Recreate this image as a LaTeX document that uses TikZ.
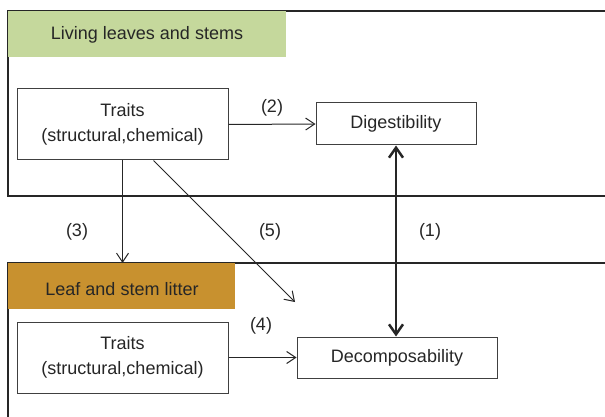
\documentclass[tikz,border=0pt]{standalone}
\usepackage{fontspec}
\setmainfont{Liberation Sans}
\usetikzlibrary{arrows.meta}
\definecolor{leafgreen}{HTML}{C5D89C}
\definecolor{litterbrown}{HTML}{C8912F}

\begin{document}
\begin{tikzpicture}[
    x=1pt, y=-1pt,
    every node/.style={font=\fontsize{18}{25}\selectfont, text=black!85},
    box/.style={draw=black!75, line width=1pt, fill=white, align=center},
    band/.style={inner sep=0pt, anchor=north west},
    link/.style={-{Straight Barb[length=9pt,width=12pt]}, line width=1pt, draw=black!85},
  ]
  \useasboundingbox (0,0) rectangle (605,417);
  % frames
  \draw[line width=2pt, black!85] (605,11) -- (8,11) -- (8,196) -- (605,196);
  \draw[line width=2pt, black!85] (605,263) -- (8,263) -- (8,417);
  \node[band, fill=leafgreen, minimum width=278pt, minimum height=46pt] (live) at (8,11) {};
  \node at (147,35) {Living leaves and stems};
  \node[band, fill=litterbrown, minimum width=227pt, minimum height=46pt] (lit) at (8,263) {};
  \node at (122,289) {Leaf and stem litter};
  % boxes
  \node[box, minimum width=211pt, minimum height=71pt] (tA) at (122.5,124.5) {Traits\\(structural,chemical)};
  \node[box, minimum width=160pt, minimum height=42pt] (dig) at (396,124) {Digestibility};
  \node[box, minimum width=211pt, minimum height=71pt] (tB) at (122.5,357.5) {Traits\\(structural,chemical)};
  \node[box, minimum width=200pt, minimum height=41pt] (dec) at (397,357.5) {Decomposability};
  \coordinate (end5) at (295,302);
  % arrows
  \draw[link] (tA.east) -- (dig.west) node[midway, above=4pt] {(2)};
  \draw[link] (tB.east) -- (dec.west);
  \draw[link] (tA.south) -- (tA.south |- lit.north);
  \draw[link] (tA.south)++(31,0) coordinate (start5) -- (end5);
  \draw[{Straight Barb[length=10pt,width=14pt]}-{Straight Barb[length=10pt,width=14pt]}, line width=2.5pt, black!85] (dig.south) -- (dig.south |- dec.north);
  % labels
  \node at (77,232) {(3)};
  \node at (270,232) {(5)};
  \node at (430,232) {(1)};
  \node at (261,326) {(4)};
\end{tikzpicture}
\end{document}
